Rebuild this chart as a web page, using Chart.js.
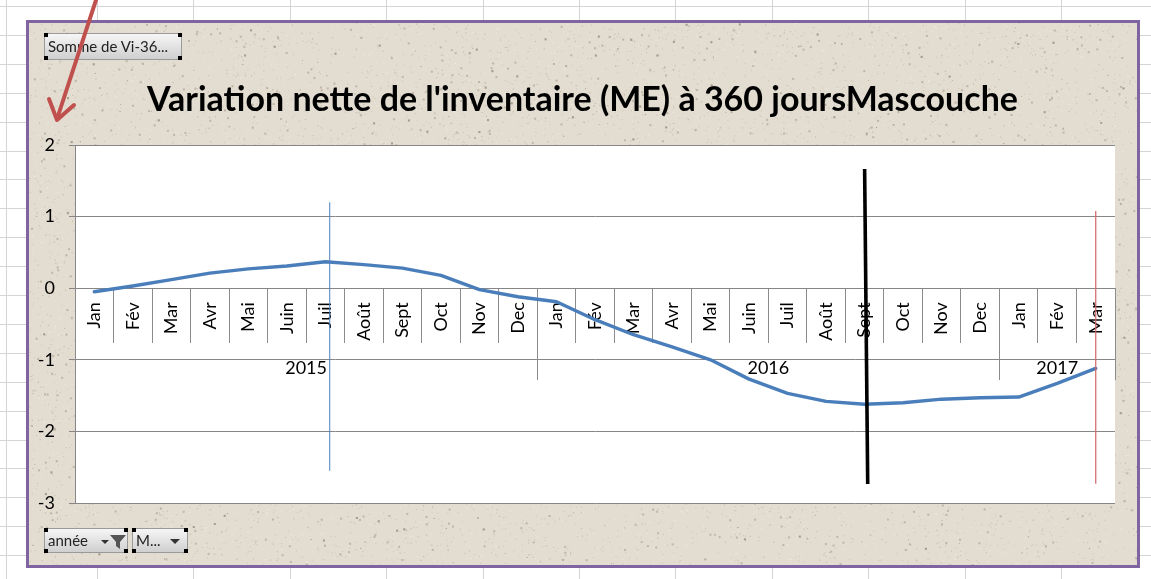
<!DOCTYPE html>
<html><head><meta charset="utf-8">
<script src="https://cdn.jsdelivr.net/npm/chart.js@4.4.1/dist/chart.umd.min.js"></script>
<style>
html,body{margin:0;padding:0;width:1151px;height:579px;overflow:hidden;background:#fff;}
#sheet{position:absolute;left:0;top:0;}
#box{position:absolute;left:26px;top:20px;width:1114px;height:548px;box-sizing:border-box;border:3px solid #8064A2;background:#E3DDD1;}
#tex{position:absolute;left:29px;top:23px;}
#chart{position:absolute;left:0;top:0;}
#title{position:absolute;left:0;width:1165px;text-align:center;font-family:Lato,sans-serif;font-weight:bold;color:#000;white-space:nowrap;line-height:1;}
.btn{position:absolute;box-sizing:border-box;background:linear-gradient(#f6f6f6,#cfcfcf);border:1px solid #9a9a9a;border-radius:2px;font-family:Lato,sans-serif;color:#222;white-space:nowrap;}
.h{position:absolute;width:4px;height:4px;background:#000;}
#arrow{position:absolute;left:0;top:0;}
</style></head>
<body>
<svg id="sheet" width="1151" height="579"></svg>
<div id="box"></div>
<canvas id="tex" width="1108" height="542"></canvas>
<canvas id="chart" width="1151" height="579"></canvas>
<div id="title">Variation nette de l'inventaire (ME) à 360 joursMascouche</div>

<div class="btn" style="left:44px;top:33px;width:138px;height:27px;font-size:15px;line-height:25px;padding-left:3px;">Somme de Vi-36...</div>
<div class="h" style="left:44px;top:33px"></div><div class="h" style="left:178px;top:33px"></div>
<div class="h" style="left:44px;top:56px"></div><div class="h" style="left:178px;top:56px"></div>

<div class="btn" style="left:44px;top:528px;width:84px;height:25px;font-size:15px;line-height:23px;padding-left:3px;">année
<svg style="position:absolute;left:54px;top:5px" width="28" height="16"><path d="M2 6 L10 6 L6 10 Z" fill="#333"/><path d="M11 1 L27 1 L21 8 L21 15 L17 12 L17 8 Z" fill="#555"/></svg></div>
<div class="h" style="left:44px;top:528px"></div><div class="h" style="left:124px;top:528px"></div>
<div class="h" style="left:44px;top:549px"></div><div class="h" style="left:124px;top:549px"></div>
<div class="btn" style="left:132px;top:528px;width:56px;height:25px;font-size:15px;line-height:23px;padding-left:3px;">M...
<svg style="position:absolute;left:36px;top:5px" width="14" height="14"><path d="M1 5 L11 5 L6 10 Z" fill="#333"/></svg></div>
<div class="h" style="left:132px;top:528px"></div><div class="h" style="left:184px;top:528px"></div>
<div class="h" style="left:132px;top:549px"></div><div class="h" style="left:184px;top:549px"></div>

<svg id="arrow" width="1151" height="579"><g stroke="#C0504D" stroke-width="4" stroke-linecap="round" stroke-linejoin="round" fill="none"><line x1="97" y1="-3" x2="57" y2="119"/><polyline points="49,99 57,120 74,105"/></g></svg>

<script>
// ---- data ----
const months = ['Jan','Fév','Mar','Avr','Mai','Juin','Juil','Août','Sept','Oct','Nov','Dec',
                'Jan','Fév','Mar','Avr','Mai','Juin','Juil','Août','Sept','Oct','Nov','Dec',
                'Jan','Fév','Mar'];
const years = ['2015','2016','2017'];
const monthsPerYear = [12,12,3];
const values = [-0.05,0.03,0.12,0.21,0.27,0.31,0.37,0.33,0.28,0.18,-0.02,-0.12,
                -0.19,-0.44,-0.65,-0.82,-1.00,-1.27,-1.47,-1.58,-1.62,-1.60,-1.55,-1.53,
                -1.52,-1.33,-1.12];
const yTicks = [2,1,0,-1,-2,-3];
// hand-drawn marker lines (category index, value)
const markerFromX = [6.1, 20.0, 26];
const markerFromY = [1.2, 1.665, 1.078];
const markerToX   = [6.1, 20.08, 26];
const markerToY   = [-2.55, -2.735, -2.73];

// ---- spreadsheet grid ----
(function(){
  const svg = document.getElementById('sheet');
  let s = '';
  for (let k = 0; k < 13; k++) { const x = k === 0 ? 6.5 : Math.round(97 + 96.4*(k-1)) + 0.5; s += `<line x1="${x}" y1="0" x2="${x}" y2="579" stroke="#d4d4d4" stroke-width="1"/>`; }
  for (let k = 0; k < 21; k++) { const y = Math.round(6 + 28.9*k) + 0.5; s += `<line x1="0" y1="${y}" x2="1151" y2="${y}" stroke="#d4d4d4" stroke-width="1"/>`; }
  svg.innerHTML = s;
})();

// ---- texture ----
(function(){
  const c = document.getElementById('tex'), g = c.getContext('2d');
  g.fillStyle = '#E3DDD1'; g.fillRect(0,0,c.width,c.height);
  let seed = 12345;
  const rnd = () => { seed = (seed * 1103515245 + 12345) & 0x7fffffff; return seed / 0x7fffffff; };
  for (let i = 0; i < 14000; i++) {
    const x = rnd()*c.width, y = rnd()*c.height, t = rnd();
    g.fillStyle = t < 0.5 ? 'rgba(160,148,125,0.35)' : (t < 0.8 ? 'rgba(245,242,235,0.6)' : 'rgba(120,108,90,0.35)');
    g.fillRect(x, y, t < 0.9 ? 1 : 2, t < 0.9 ? 1 : 2);
  }
})();

// ---- title sizing ----
(function(){
  const t = document.getElementById('title');
  const m = document.createElement('canvas').getContext('2d');
  m.font = 'bold 100px Lato';
  const w = m.measureText(t.textContent).width;
  const size = 100 * 871 / w;
  t.style.fontSize = size.toFixed(2) + 'px';
  t.style.top = (111 - size*0.887) + 'px';
})();

// ---- chart ----
const whiteArea = {
  id: 'whiteArea',
  beforeDraw(chart) {
    const {ctx, chartArea: a} = chart;
    ctx.save(); ctx.fillStyle = '#fff'; ctx.fillRect(a.left, a.top, a.right - a.left, a.bottom - a.top); ctx.restore();
  }
};
const yearRow = {
  id: 'yearRow',
  beforeDatasetsDraw(chart) {
    const {ctx} = chart, xs = chart.scales.x, ys = chart.scales.y;
    const y0 = Math.round(ys.getPixelForValue(0));
    ctx.save();
    ctx.strokeStyle = '#8c8c8c'; ctx.lineWidth = 1;
    ctx.fillStyle = '#000'; ctx.font = '18px Lato'; ctx.textAlign = 'center'; ctx.textBaseline = 'middle';
    let start = 0;
    const edges = [start];
    years.forEach((yr, i) => {
      const l = xs.getPixelForValue(start - 0.5), r = xs.getPixelForValue(start + monthsPerYear[i] - 0.5);
      ctx.fillText(yr, (l + r) / 2, y0 + 80);
      start += monthsPerYear[i]; edges.push(start);
    });
    edges.forEach(e => {
      const x = Math.round(xs.getPixelForValue(e - 0.5)) + 0.5;
      ctx.beginPath(); ctx.moveTo(x, y0); ctx.lineTo(x, y0 + 92); ctx.stroke();
    });
    ctx.restore();
  }
};
const markers = {
  id: 'markers',
  afterDatasetsDraw(chart) {
    const {ctx} = chart, xs = chart.scales.x, ys = chart.scales.y;
    const styles = [['#4F81BD', 1], ['#000000', 3.6], ['#D46466', 1.2]];
    ctx.save();
    markerFromX.forEach((fx, i) => {
      ctx.strokeStyle = styles[i][0]; ctx.lineWidth = styles[i][1];
      ctx.beginPath();
      ctx.moveTo(xs.getPixelForValue(fx) + (styles[i][1] === 1 ? 0.5 : 0), ys.getPixelForValue(markerFromY[i]));
      ctx.lineTo(xs.getPixelForValue(markerToX[i]) + (styles[i][1] === 1 ? 0.5 : 0), ys.getPixelForValue(markerToY[i]));
      ctx.stroke();
    });
    ctx.restore();
  }
};

new Chart(document.getElementById('chart'), {
  type: 'line',
  data: {
    labels: months,
    datasets: [{
      data: values,
      borderColor: '#4A7EBB',
      borderWidth: 3.4,
      pointRadius: 0,
      tension: 0,
      borderJoinStyle: 'round',
      borderCapStyle: 'round',
      clip: false
    }]
  },
  options: {
    responsive: false,
    animation: false,
    devicePixelRatio: 1,
    layout: {padding: {left: 0, top: 145, right: 36, bottom: 76}},
    plugins: {legend: {display: false}, tooltip: {enabled: false}, title: {display: false}},
    scales: {
      y: {
        min: -3, max: 2,
        afterBuildTicks: s => { s.ticks = yTicks.map(v => ({value: v})); },
        afterFit: s => { s.width = 75; },
        ticks: {color: '#000', font: {family: 'Lato', size: 18}, padding: 14, callback: v => String(v)},
        grid: {color: '#868686', lineWidth: 1, tickLength: 6, drawTicks: true},
        border: {display: true, color: '#868686'}
      },
      x: {
        position: {y: 0},
        offset: true,
        ticks: {autoSkip: false, minRotation: 90, maxRotation: 90, padding: -40, color: '#000', font: {family: 'Lato', size: 18}},
        grid: {offset: true, drawOnChartArea: false, drawTicks: true, tickLength: 54, color: '#8c8c8c'},
        border: {display: true, color: '#868686'}
      }
    }
  },
  plugins: [whiteArea, yearRow, markers]
});
</script>
</body></html>
